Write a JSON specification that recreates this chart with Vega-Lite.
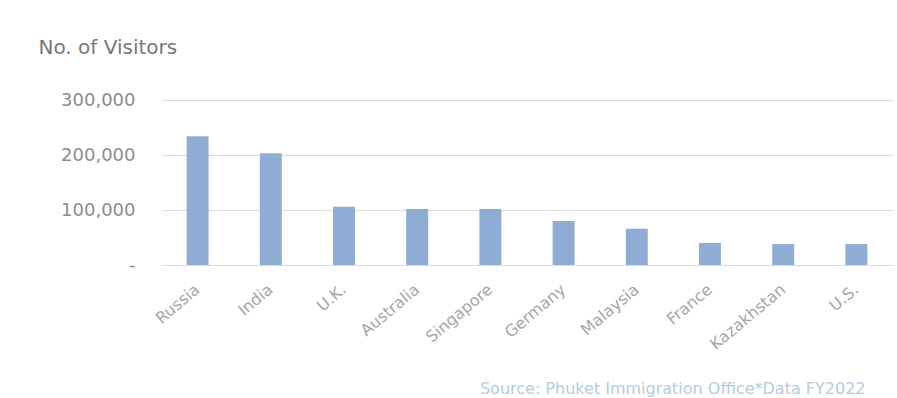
{
  "$schema": "https://vega.github.io/schema/vega-lite/v6.json",
  "autosize": {"type": "none"},
  "width": 732,
  "height": 165,
  "padding": {"left": 161, "top": 100, "right": 4, "bottom": 133},
  "background": "white",
  "data": {
    "values": [
      {"country": "Russia", "visitors": 234000},
      {"country": "India", "visitors": 203000},
      {"country": "U.K.", "visitors": 106000},
      {"country": "Australia", "visitors": 102000},
      {"country": "Singapore", "visitors": 102000},
      {"country": "Germany", "visitors": 80000},
      {"country": "Malaysia", "visitors": 66000},
      {"country": "France", "visitors": 40000},
      {"country": "Kazakhstan", "visitors": 38000},
      {"country": "U.S.", "visitors": 38000}
    ]
  },
  "mark": {"type": "bar", "color": "#8eacd4"},
  "encoding": {
    "x": {
      "field": "country",
      "type": "nominal",
      "sort": null,
      "scale": {"paddingInner": 0.7, "paddingOuter": 0.35},
      "axis": {
        "title": "Source: Phuket Immigration Office*Data FY2022",
        "titleX": 704,
        "titleY": 128,
        "titleAlign": "right",
        "titleBaseline": "alphabetic",
        "titleAnchor": null,
        "titleFont": "DejaVu Sans",
        "titleFontSize": 16,
        "titleFontWeight": "normal",
        "titleColor": "#b4cce2",
        "labelAngle": -40,
        "labelAlign": "right",
        "labelBaseline": "middle",
        "labelFont": "DejaVu Sans",
        "labelFontSize": 16,
        "labelColor": "#a6a6a6",
        "labelPadding": 22,
        "ticks": false,
        "domain": false
      }
    },
    "y": {
      "field": "visitors",
      "type": "quantitative",
      "scale": {"domain": [0, 300000]},
      "axis": {
        "values": [0, 100000, 200000, 300000],
        "labelExpr": "datum.value === 0 ? '-' : format(datum.value, ',')",
        "labelFont": "DejaVu Sans",
        "labelFontSize": 18,
        "labelColor": "#8c8c8c",
        "labelPadding": 26,
        "ticks": false,
        "domain": false,
        "grid": true,
        "gridColor": "#dcdcdc",
        "gridWidth": 1,
        "title": "No. of Visitors",
        "titleAngle": 0,
        "titleX": -123,
        "titleY": -47,
        "titleAlign": "left",
        "titleBaseline": "alphabetic",
        "titleFont": "DejaVu Sans",
        "titleFontSize": 20,
        "titleFontWeight": "normal",
        "titleColor": "#777777"
      }
    }
  },
  "config": {"view": {"stroke": null}}
}
